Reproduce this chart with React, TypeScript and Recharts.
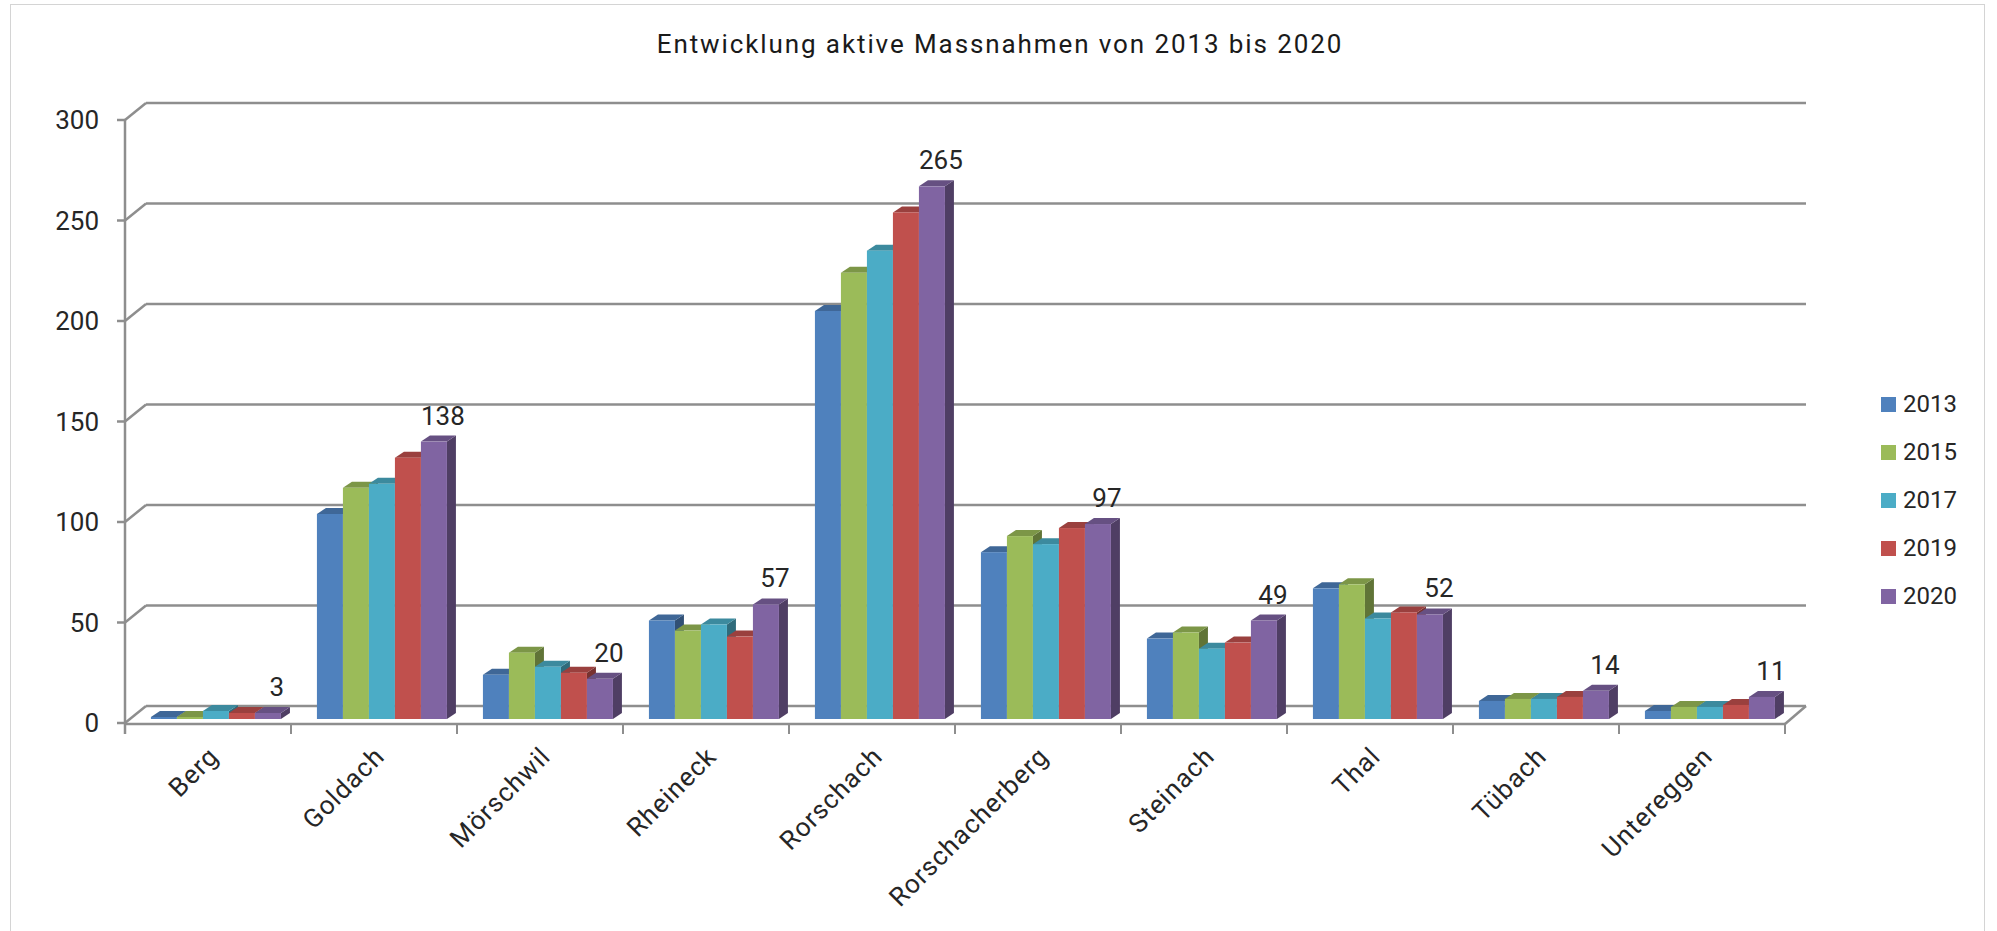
import React from 'react';
import { BarChart, Bar, XAxis, YAxis, CartesianGrid, Legend, LabelList } from 'recharts';

const categories = ['Berg', 'Goldach', 'Mörschwil', 'Rheineck', 'Rorschach', 'Rorschacherberg', 'Steinach', 'Thal', 'Tübach', 'Untereggen'];
const years = ['2013', '2015', '2017', '2019', '2020'];
const v2013 = [1, 102, 22, 49, 203, 83, 40, 65, 9, 4];
const v2015 = [1, 115, 33, 44, 222, 91, 43, 67, 10, 6];
const v2017 = [4, 117, 26, 47, 233, 87, 35, 50, 10, 6];
const v2019 = [3, 130, 23, 41, 252, 95, 38, 53, 11, 7];
const v2020 = [3, 138, 20, 57, 265, 97, 49, 52, 14, 11];
const seriesValues = [v2013, v2015, v2017, v2019, v2020];
const colors = ['#4F81BD', '#9BBB59', '#4BACC6', '#C0504D', '#8064A2'];
const yTicks = [0, 50, 100, 150, 200, 250, 300];
const title = 'Entwicklung aktive Massnahmen von 2013 bis 2020';

const data = categories.map((name, i) => {
  const row: any = { name };
  years.forEach((yr, s) => {
    row['y' + yr] = seriesValues[s][i];
  });
  return row;
});

const FONT = 'Roboto, "Liberation Sans", sans-serif';
const GRID = '#8e8e8e';
const DEPTH_X = 21;
const DEPTH_Y = 17;
const BAR_DX = 7;
const BAR_DY = -4;
const BAR_DEPTH_X = 9;
const BAR_DEPTH_Y = 6;

function shade(hex: string, f: number) {
  const n = parseInt(hex.slice(1), 16);
  const r = Math.round(((n >> 16) & 255) * f);
  const g = Math.round(((n >> 8) & 255) * f);
  const b = Math.round((n & 255) * f);
  return `rgb(${r},${g},${b})`;
}

const Bar3D = (props: any) => {
  const { x, y, width, height, fill } = props;
  if (x == null || y == null || !width) return null;
  const X = x + BAR_DX;
  const Y = y + BAR_DY;
  const w = width;
  const h = Math.max(height, 0);
  const top = `${X},${Y} ${X + w},${Y} ${X + w + BAR_DEPTH_X},${Y - BAR_DEPTH_Y} ${X + BAR_DEPTH_X},${Y - BAR_DEPTH_Y}`;
  const side = `${X + w},${Y} ${X + w + BAR_DEPTH_X},${Y - BAR_DEPTH_Y} ${X + w + BAR_DEPTH_X},${Y + h - BAR_DEPTH_Y} ${X + w},${Y + h}`;
  return (
    <g>
      <polygon points={side} fill={shade(fill, 0.62)} />
      <polygon points={top} fill={shade(fill, 0.8)} />
      <rect x={X} y={Y} width={w} height={h} fill={fill} />
    </g>
  );
};

const GridLine = (props: any) => {
  const { x1, y1, x2, y, height, width, x, index } = props;
  const isZero = Math.abs(y1 - (y + height)) < 1;
  const bx = x1 + DEPTH_X;
  const by = y1 - DEPTH_Y;
  const n = categories.length;
  const step = width / n;
  return (
    <g key={`gl-${index}`}>
      <line x1={x1} y1={y1} x2={bx} y2={by} stroke={GRID} strokeWidth={2.5} />
      <line x1={bx} y1={by} x2={x2 + DEPTH_X} y2={by} stroke={GRID} strokeWidth={2.5} />
      {isZero && (
        <g>
          <line x1={x1} y1={y1 + 1} x2={x2} y2={y1 + 1} stroke={GRID} strokeWidth={2.5} />
          <line x1={x2} y1={y1 + 1} x2={x2 + DEPTH_X} y2={by} stroke={GRID} strokeWidth={2.5} />
          <line x1={x1} y1={y1} x2={x1} y2={y1 + 11} stroke={GRID} strokeWidth={2.5} />
          {Array.from({ length: n + 1 }).map((_, i) => (
            <line key={i} x1={x + i * step} y1={y1 + 1} x2={x + i * step} y2={y1 + 11} stroke={GRID} strokeWidth={2} />
          ))}
        </g>
      )}
    </g>
  );
};

const XTick = (props: any) => {
  const { x, y, payload } = props;
  const ax = x + 12;
  const ay = y + 35;
  return (
    <text x={ax} y={ay} transform={`rotate(-45 ${ax} ${ay})`} textAnchor="end" fontSize={26} fontFamily={FONT} fill="#262626" letterSpacing={1}>
      {payload.value}
    </text>
  );
};

const ValueLabel = (props: any) => {
  const { x, y, width, value } = props;
  return (
    <text x={x + width / 2 + BAR_DX + 9} y={y + BAR_DY - 17} textAnchor="middle" fontSize={26} fontFamily={FONT} fill="#262626">
      {value}
    </text>
  );
};

const LegendContent = (props: any) => {
  const payload = props.payload || [];
  return (
    <div style={{ fontFamily: FONT }}>
      {payload.map((p: any, i: number) => (
        <div key={i} style={{ display: 'flex', alignItems: 'center', height: 48 }}>
          <div style={{ width: 15, height: 15, background: p.color, marginRight: 7 }} />
          <span style={{ fontSize: 24, color: '#262626' }}>{p.value}</span>
        </div>
      ))}
    </div>
  );
};

export default function App() {
  return (
    <div style={{ position: 'absolute', left: 0, top: 0, width: 1997, height: 931, background: '#fff', overflow: 'hidden' }}>
      <div style={{ position: 'absolute', left: 10, top: 4, width: 1975, height: 960, border: '1px solid #d4d4d4', boxSizing: 'border-box' }} />
      <div
        style={{
          position: 'absolute',
          left: 0,
          width: 2000,
          top: 31,
          textAlign: 'center',
          fontFamily: FONT,
          fontSize: 26,
          lineHeight: '26px',
          letterSpacing: 1.9,
          color: '#1a1a1a',
        }}
      >
        {title}
      </div>
      <div style={{ position: 'absolute', left: 0, top: 0 }}>
        <BarChart
          width={1997}
          height={931}
          data={data}
          margin={{ top: 120, right: 212, bottom: 108, left: 0 }}
          barCategoryGap="11.4%"
          barGap={0}
        >
          <CartesianGrid vertical={false} horizontal={GridLine as any} />
          <XAxis dataKey="name" height={100} axisLine={false} tickLine={false} tickSize={0} tickMargin={0} interval={0} tick={<XTick />} />
          <YAxis
            width={125}
            domain={[0, 300]}
            ticks={yTicks}
            interval={0}
            axisLine={{ stroke: GRID, strokeWidth: 2.5 }}
            tickLine={{ stroke: GRID, strokeWidth: 2.5 }}
            tickSize={8}
            tickMargin={18}
            tick={{ fontSize: 26, fontFamily: FONT, fill: '#262626' }}
          />
          <Legend
            layout="vertical"
            align="center"
            verticalAlign="middle"
            wrapperStyle={{ left: 1881, top: 380, width: 120 }}
            content={<LegendContent />}
          />
          {years.map((yr, s) => (
            <Bar key={yr} dataKey={'y' + yr} name={yr} fill={colors[s]} shape={<Bar3D />} isAnimationActive={false}>
              {s === years.length - 1 && <LabelList dataKey={'y' + yr} content={<ValueLabel />} />}
            </Bar>
          ))}
        </BarChart>
      </div>
    </div>
  );
}
